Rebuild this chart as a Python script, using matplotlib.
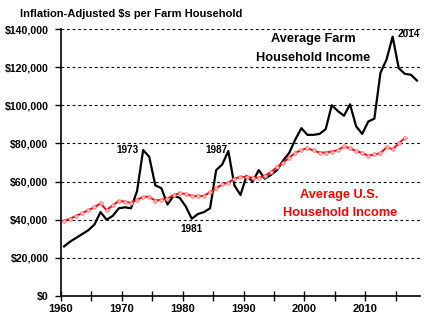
import matplotlib
matplotlib.use('Agg')
import matplotlib.pyplot as plt
import numpy as np

plt.rcParams['font.family'] = ['Liberation Sans', 'DejaVu Sans']

# Data (thousands of inflation-adjusted dollars)
farm_years = np.arange(1960, 2019)
farm_income = [26, 28.5, 30.5, 32.5, 34.5, 37.5, 44, 40, 42, 46,
               46.5, 46, 55, 76.5, 73, 58, 56.5, 48, 52.5, 51.5,
               47, 40.5, 43, 44, 46, 66, 69, 76, 58, 53,
               63, 60, 66, 61.5, 63.5, 66, 71, 75, 82, 88,
               84.5, 84.5, 85, 87.5, 100, 97, 94.5, 100.5, 89, 85,
               91.5, 93, 117, 124, 136, 119.5, 116.5, 116, 113]

us_years = np.arange(1960, 2017)
us_income = [39.4, 40.5, 42, 43.5, 45, 46.5, 48.6, 45, 47.5, 49.8,
             49.5, 48.8, 50.5, 52, 52, 50, 50.5, 51, 53, 53.9,
             53.5, 52.5, 52.3, 52.5, 54.5, 56.5, 58.5, 59.5, 61.5, 62.5,
             62.5, 62, 62, 63, 65, 67.5, 70, 72.5, 75, 76.5,
             77.5, 76.3, 75.2, 75.2, 75.7, 76.5, 78.4, 77.5, 76, 75,
             73.5, 74.2, 74.9, 78, 77, 80, 82.8]

yticks = np.arange(0, 140001, 20000)
ytick_labels = ['$0', '$20,000', '$40,000', '$60,000', '$80,000',
                '$100,000', '$120,000', '$140,000']
xticks_major = [1960, 1970, 1980, 1990, 2000, 2010]

fig = plt.figure(figsize=(4.31, 3.23), dpi=100)
ax = fig.add_axes([0.1415, 0.0836, 0.833, 0.8266])

# points sit in the middle of each year
ax.plot(farm_years + 0.5, np.array(farm_income) * 1000, color='black', lw=1.6, zorder=3)
ax.plot(us_years + 0.5, np.array(us_income) * 1000, color='#ff0000', lw=1.4,
        marker='o', markersize=2.6, markerfacecolor='#ffc0c0',
        markeredgecolor='#ff6060', markeredgewidth=0.5, zorder=4)

ax.set_xlim(1960, 2019)
ax.set_ylim(0, 140000)
ax.set_yticks(yticks)
ax.set_yticklabels(ytick_labels, fontsize=7.6, fontweight='bold')
ax.set_xticks(xticks_major)
ax.set_xticklabels([str(x) for x in xticks_major], fontsize=8, fontweight='bold')
ax.set_xticks(np.arange(1965, 2019, 10), minor=True)

for y in yticks[1:]:
    ax.axhline(y, color='black', lw=0.8, ls=(0, (2.5, 2.5)), zorder=1)

ax.spines['right'].set_color('none')
ax.spines['top'].set_color('none')
ax.spines['left'].set_linewidth(1.2)
ax.spines['bottom'].set_linewidth(1.2)
ax.tick_params(axis='y', direction='out', length=4, width=1, pad=5)
ax.tick_params(axis='x', which='both', direction='inout', length=7, width=1, pad=2)

# labels
ax.text(1970.9, 76600, '1973', fontsize=7.2, fontweight='bold', ha='center', va='center')
ax.text(1985.6, 76600, '1987', fontsize=7.2, fontweight='bold', ha='center', va='center')
ax.text(1981.5, 34900, '1981', fontsize=7.2, fontweight='bold', ha='center', va='center')
ax.text(2017.1, 137300, '2014', fontsize=7.2, fontweight='bold', ha='center', va='center')

ax.text(2001.5, 134500, 'Average Farm', fontsize=9.2, fontweight='bold',
        ha='center', va='center')
ax.text(2001.5, 125000, 'Household Income', fontsize=9.2, fontweight='bold',
        ha='center', va='center')
ax.text(2005.8, 53000, 'Average U.S.', fontsize=9.2, fontweight='bold',
        ha='center', va='center', color='#ff0000')
ax.text(2005.8, 43500, 'Household Income', fontsize=9.2, fontweight='bold',
        ha='center', va='center', color='#ff0000')

fig.text(0.047, 0.958, 'Inflation-Adjusted $s per Farm Household', fontsize=8,
         fontweight='bold', ha='left', va='center')

fig.savefig('out.png', dpi=100)
